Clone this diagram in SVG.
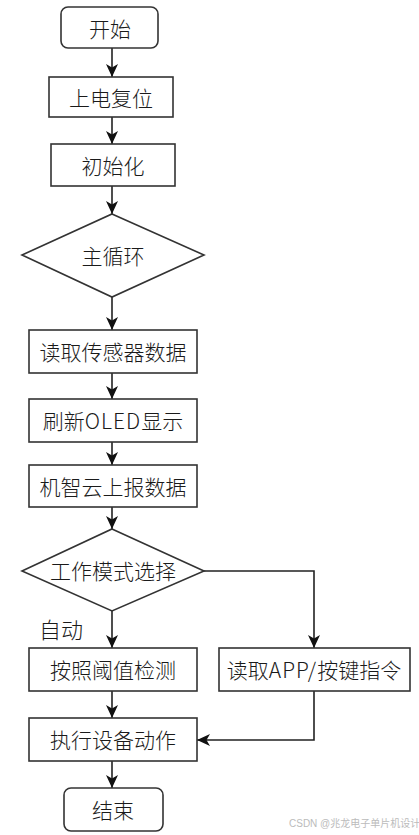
<svg xmlns="http://www.w3.org/2000/svg" width="419" height="835" viewBox="0 0 419 835">
<defs>
<style>
.box{fill:#fff;stroke:#333;stroke-width:1.6}
.t{font-family:"Noto Sans CJK SC",sans-serif;font-size:21px;font-weight:300;fill:#1a1a1a;text-anchor:middle;dominant-baseline:central}
.m{letter-spacing:1px}
.c{fill:none;stroke:#222;stroke-width:1.6}
.wm{font-family:"Liberation Sans","Noto Sans CJK SC",sans-serif;font-size:10px;fill:#bbb}
</style>
<marker id="ah" markerUnits="userSpaceOnUse" markerWidth="14" markerHeight="14" viewBox="0 0 14 14" refX="13" refY="7" orient="auto">
<path d="M0,1 L13,7 L0,13 L3.5,7 z" fill="#111"/>
</marker>
</defs>
<rect width="419" height="835" fill="#fff"/>
<g id="connectors">
<path class="c" d="M112,48 V77" marker-end="url(#ah)"/>
<path class="c" d="M112,117 V144" marker-end="url(#ah)"/>
<path class="c" d="M112,186 V214" marker-end="url(#ah)"/>
<path class="c" d="M112,297 V330" marker-end="url(#ah)"/>
<path class="c" d="M112,373 V399" marker-end="url(#ah)"/>
<path class="c" d="M112,442 V465" marker-end="url(#ah)"/>
<path class="c" d="M112,507 V529" marker-end="url(#ah)"/>
<path class="c" d="M112,611 V648" marker-end="url(#ah)"/>
<path class="c" d="M204,571 H314 V648" marker-end="url(#ah)"/>
<path class="c" d="M112,691 V718" marker-end="url(#ah)"/>
<path class="c" d="M314,691 V740 H197" marker-end="url(#ah)"/>
<path class="c" d="M112,761 V788" marker-end="url(#ah)"/>
</g>
<g id="start"><rect class="box" x="61" y="7" width="97" height="41" rx="7"/><text class="t" x="110" y="28">开始</text></g>
<g id="reset"><rect class="box" x="49" y="77" width="124" height="40"/><text class="t" x="111" y="97">上电复位</text></g>
<g id="init"><rect class="box" x="51" y="144" width="124" height="42"/><text class="t" x="113" y="165">初始化</text></g>
<g id="mainloop"><polygon class="box" points="112,214 204,255 112,297 22,255"/><text class="t" x="113" y="255">主循环</text></g>
<g id="readsensor"><rect class="box" x="29" y="330" width="168" height="43"/><text class="t" x="113" y="351">读取传感器数据</text></g>
<g id="oled"><rect class="box" x="29" y="399" width="168" height="43"/><text class="t" x="113" y="420">刷新<tspan class="m">OLED</tspan>显示</text></g>
<g id="cloud"><rect class="box" x="29" y="465" width="168" height="42"/><text class="t" x="113" y="486">机智云上报数据</text></g>
<g id="mode"><polygon class="box" points="112,529 204,571 112,611 22,571"/><text class="t" x="113" y="570">工作模式选择</text></g>
<g id="autolabel"><text class="t" x="61" y="628" style="font-size:22px">自动</text></g>
<g id="threshold"><rect class="box" x="29" y="648" width="168" height="43"/><text class="t" x="113" y="669">按照阈值检测</text></g>
<g id="app"><rect class="box" x="219" y="648" width="191" height="43"/><text class="t" x="314" y="669">读取<tspan class="m">APP/</tspan>按键指令</text></g>
<g id="exec"><rect class="box" x="29" y="718" width="168" height="43"/><text class="t" x="113" y="739">执行设备动作</text></g>
<g id="end"><rect class="box" x="64" y="788" width="99" height="43" rx="7"/><text class="t" x="113" y="809">结束</text></g>
<text class="wm" x="289" y="827">CSDN @兆龙电子单片机设计</text>
</svg>
